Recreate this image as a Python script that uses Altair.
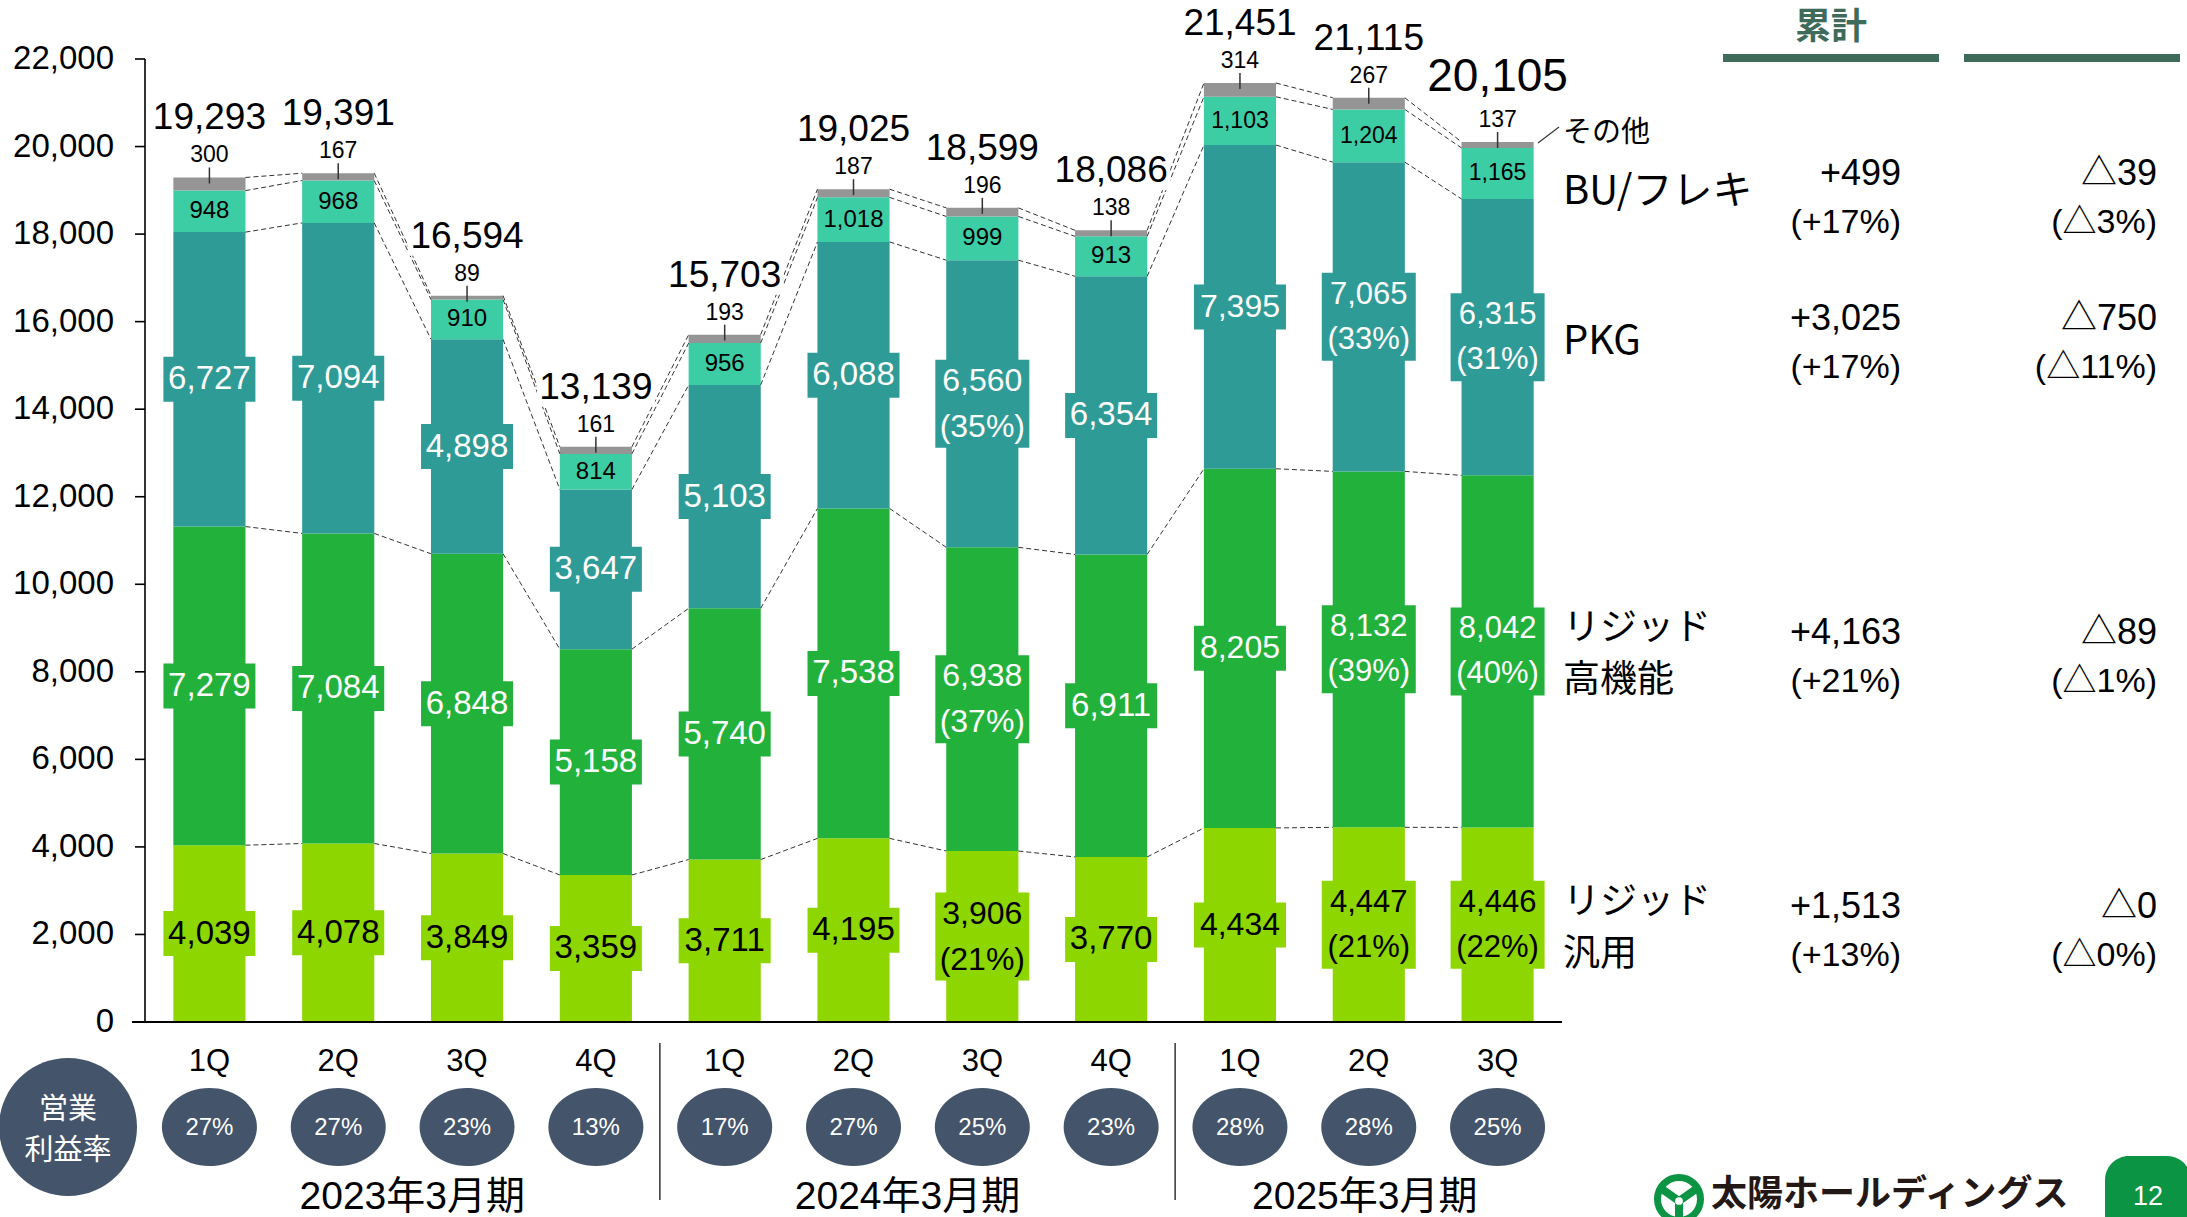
import altair as alt
import pandas as pd

# ---------------- data ----------------
fiscal_years = ["2023年3月期"] * 4 + ["2024年3月期"] * 4 + ["2025年3月期"] * 3
quarters = ["1Q", "2Q", "3Q", "4Q", "1Q", "2Q", "3Q", "4Q", "1Q", "2Q", "3Q"]
rigid_general = [4039, 4078, 3849, 3359, 3711, 4195, 3906, 3770, 4434, 4447, 4446]
rigid_high = [7279, 7084, 6848, 5158, 5740, 7538, 6938, 6911, 8205, 8132, 8042]
pkg = [6727, 7094, 4898, 3647, 5103, 6088, 6560, 6354, 7395, 7065, 6315]
bu_flex = [948, 968, 910, 814, 956, 1018, 999, 913, 1103, 1204, 1165]
other = [300, 167, 89, 161, 193, 187, 196, 138, 314, 267, 137]
totals = [19293, 19391, 16594, 13139, 15703, 19025, 18599, 18086, 21451, 21115, 20105]
op_margin = ["27%", "27%", "23%", "13%", "17%", "27%", "25%", "23%", "28%", "28%", "25%"]
share_general = ["", "", "", "", "", "", "21%", "", "", "21%", "22%"]
share_high = ["", "", "", "", "", "", "37%", "", "", "39%", "40%"]
share_pkg = ["", "", "", "", "", "", "35%", "", "", "33%", "31%"]
y_ticks = list(range(0, 22001, 2000))

segments = ["リジッド汎用", "リジッド高機能", "PKG", "BU/フレキ", "その他"]
seg_colors = ["#8DD600", "#22B23C", "#2E9B96", "#3DCDA5", "#959595"]

table_segments = ["BU/フレキ", "PKG", "リジッド高機能", "リジッド汎用"]
table_names = ["BU/フレキ", "PKG", "リジッド\n高機能", "リジッド\n汎用"]
cum_change = ["+499", "+3,025", "+4,163", "+1,513"]
cum_change_pct = ["(+17%)", "(+17%)", "(+21%)", "(+13%)"]
yoy_change = ["△39", "△750", "△89", "△0"]
yoy_change_pct = ["(△3%)", "(△11%)", "(△1%)", "(△0%)"]

# ---------------- derived tables ----------------
keys = [f"{f}-{q}" for f, q in zip(fiscal_years, quarters)]
series = [rigid_general, rigid_high, pkg, bu_flex, other]
shares = [share_general, share_high, share_pkg, None, None]

rows = []
cums = []
for i, k in enumerate(keys):
    c = 0
    levels = []
    era = "new" if fiscal_years[i].startswith("2025") else "old"
    for j, s in enumerate(segments):
        v = series[j][i]
        start, end = c, c + v
        c = end
        levels.append(end)
        sh = shares[j][i] if shares[j] is not None else ""
        label = f"{v:,}" + (f"\n({sh})" if sh else "")
        rows.append(dict(key=k, segment=s, start=start, end=end, mid=(start + end) / 2,
                         label=label, two=bool(sh), era=era))
    cums.append(levels)
seg_df = pd.DataFrame(rows)

conn = []
for i in range(len(keys) - 1):
    for lv in range(len(segments)):
        conn.append(dict(key=keys[i], key2=keys[i + 1], y1=cums[i][lv], y2=cums[i + 1][lv]))
conn_df = pd.DataFrame(conn)

tot_df = pd.DataFrame(dict(key=keys, total=totals, label=[f"{t:,}" for t in totals],
                           era=["new" if f.startswith("2025") else "old" for f in fiscal_years],
                           quarter=quarters, margin=op_margin))
tot_df["last"] = [k == keys[-1] for k in keys]

last_mid = {r["segment"]: r["mid"] for r in rows if r["key"] == keys[-1]}
tab_df = pd.DataFrame(dict(segment=table_segments, name=table_names, cum=cum_change,
                           cum_pct=cum_change_pct, yoy=yoy_change, yoy_pct=yoy_change_pct))
tab_df["mid"] = [last_mid[s] for s in table_segments]
tab_df["two"] = ["\n" in n for n in table_names]

fy_df = pd.DataFrame(dict(fy=["2023年3月期", "2024年3月期", "2025年3月期"],
                          anchor=[keys[1], keys[5], keys[9]]))
sep_df = pd.DataFrame(dict(key=[keys[3], keys[7]]))
yt_df = pd.DataFrame(dict(v=y_ticks, lab=[f"{v:,}" for v in y_ticks]))
one = pd.DataFrame(dict(a=[0]))

# ---------------- styling helpers ----------------
NUM = "Liberation Sans, Arial, Noto Sans CJK JP, sans-serif"
CJK = "Noto Sans CJK JP"
W, H = 1417, 963


def rect_shape(w, h):
    r = h / w
    return f"M-1,{-r:.4f}L1,{-r:.4f}L1,{r:.4f}L-1,{r:.4f}Z"


def ellipse_shape(w, h):
    k = h / w
    K = 0.5523
    return (f"M1,0C1,{k*K:.4f} {K},{k:.4f} 0,{k:.4f}C{-K},{k:.4f} -1,{k*K:.4f} -1,0"
            f"C-1,{-k*K:.4f} {-K},{-k:.4f} 0,{-k:.4f}C{K},{-k:.4f} 1,{-k*K:.4f} 1,0Z")


XS = alt.Scale(paddingInner=0.44, paddingOuter=0.22)
X = alt.X("key:N", sort=keys, scale=XS, axis=None)
YS = alt.Scale(domain=[0, 22000], nice=False, zero=True)
COL = alt.Color("segment:N", scale=alt.Scale(domain=segments, range=seg_colors), legend=None)


def Y(field):
    return alt.Y(field, scale=YS, axis=None)


# ---------------- layers ----------------
bars = alt.Chart(seg_df).mark_bar().encode(x=X, y=Y("start:Q"), y2="end:Q", color=COL)

# y axis (drawn with the y scale)
y_domain = alt.Chart(one).mark_rule(color="black", strokeWidth=1.6).encode(
    x=alt.value(0), y=alt.value(0), y2=alt.value(H))
y_tick = alt.Chart(yt_df).mark_rule(color="black", strokeWidth=1.6).encode(
    x=alt.value(-10), x2=alt.value(0), y=Y("v:Q"))
y_lab = alt.Chart(yt_df).mark_text(font=NUM, fontSize=33, align="right", baseline="middle",
                                   color="black").encode(x=alt.value(-31), y=Y("v:Q"), text="lab:N")
baseline = alt.Chart(one).mark_rule(color="black", strokeWidth=2).encode(
    x=alt.value(-13), x2=alt.value(W), y=alt.value(H))

connectors = alt.Chart(conn_df).mark_rule(
    strokeDash=[5, 3], strokeWidth=1, color="#333333", xOffset=36, x2Offset=-36
).encode(x=X, x2="key2:N", y=Y("y1:Q"), y2="y2:Q")

big_filter = alt.FieldOneOfPredicate(field="segment", oneOf=["リジッド汎用", "リジッド高機能", "PKG"])
big = alt.Chart(seg_df).transform_filter(big_filter)

box1 = big.transform_filter("!datum.two").mark_point(
    shape=rect_shape(92, 45), size=92 * 92, filled=True, opacity=1, strokeWidth=0
).encode(x=X, y=Y("mid:Q"), color=COL)
box2 = big.transform_filter("datum.two").mark_point(
    shape=rect_shape(94, 88), size=94 * 94, filled=True, opacity=1, strokeWidth=0
).encode(x=X, y=Y("mid:Q"), color=COL)

txt_color = alt.condition(alt.datum.segment == "リジッド汎用", alt.value("black"), alt.value("white"))


def big_text(cond, size, lh, dy):
    return big.transform_filter(cond).mark_text(
        font=NUM, fontSize=size, lineBreak="\n", lineHeight=lh, baseline="middle", align="center", dy=dy
    ).encode(x=X, y=Y("mid:Q"), text="label:N", color=txt_color)


big_old1 = big_text("datum.era == 'old' && !datum.two", 33, 46, 0)
big_old2 = big_text("datum.era == 'old' && datum.two", 32, 46, -23)
big_new1 = big_text("datum.era == 'new' && !datum.two", 32, 45, 0)
big_new2 = big_text("datum.era == 'new' && datum.two", 31, 45, -22)

bu = alt.Chart(seg_df).transform_filter("datum.segment == 'BU/フレキ'")
bu_old = bu.transform_filter("datum.era == 'old'").mark_text(
    font=NUM, fontSize=24, baseline="middle", color="black").encode(x=X, y=Y("mid:Q"), text="label:N")
bu_new = bu.transform_filter("datum.era == 'new'").mark_text(
    font=NUM, fontSize=23, baseline="middle", color="black").encode(x=X, y=Y("mid:Q"), text="label:N")

oth = alt.Chart(seg_df).transform_filter("datum.segment == 'その他'")
oth_tick = oth.mark_rule(color="#333333", strokeWidth=1.5, yOffset=6, y2Offset=-10).encode(
    x=X, y=Y("end:Q"), y2="end:Q")
oth_lab = oth.mark_text(font=NUM, fontSize=23, baseline="middle", dy=-22, color="black").encode(
    x=X, y=Y("end:Q"), text="label:N")

tot = alt.Chart(tot_df)
tot_box = tot.transform_filter("!datum.last").mark_point(
    shape=rect_shape(118, 38), size=118 * 118, filled=True, opacity=1, strokeWidth=0,
    color="white", yOffset=-59).encode(x=X, y=Y("total:Q"))
tot_norm = tot.transform_filter("!datum.last").mark_text(
    font=NUM, fontSize=37, baseline="middle", dy=-59, color="black"
).encode(x=X, y=Y("total:Q"), text="label:N")
tot_last = tot.transform_filter("datum.last").mark_text(
    font=NUM, fontSize=46, baseline="middle", dy=-65, color="black"
).encode(x=X, y=Y("total:Q"), text="label:N")

# bottom: quarters, margins, fiscal years
q_lab = tot.mark_text(font=NUM, fontSize=31, baseline="middle", color="black").encode(
    x=X, y=alt.value(1003), text="quarter:N")
ell = tot.mark_point(shape=ellipse_shape(95, 78), size=95 * 95, filled=True, opacity=1,
                     strokeWidth=0, color="#44546A").encode(x=X, y=alt.value(1068))
ell_txt = tot.mark_text(font=NUM, fontSize=24, baseline="middle", color="white").encode(
    x=X, y=alt.value(1069), text="margin:N")

big_circle = alt.Chart(one).mark_point(shape=ellipse_shape(138, 138), size=138 * 138, filled=True,
                                       opacity=1, strokeWidth=0, color="#44546A").encode(
    x=alt.value(-77), y=alt.value(1068))
big_circle_txt = alt.Chart(one).mark_text(font=CJK, fontSize=29, lineBreak="\n", lineHeight=41,
                                          baseline="middle", color="white").encode(
    x=alt.value(-77), y=alt.value(1051), text=alt.value("営業\n利益率"))

XF = alt.X("anchor:N", sort=keys, scale=XS, axis=None)
fy_layers = [
    alt.Chart(fy_df).transform_filter(f"datum.fy == '{name}'").mark_text(
        font=NUM, fontSize=39, baseline="middle", color="black", xOffset=off).encode(
        x=XF, y=alt.value(1138), text="fy:N")
    for name, off in (("2023年3月期", 74), ("2024年3月期", 54), ("2025年3月期", -4))
]

seps = alt.Chart(sep_df).mark_rule(color="#333333", strokeWidth=1.5, xOffset=64).encode(
    x=X, y=alt.value(984), y2=alt.value(1141))

# right table (anchored at the last bar's segment middles)
tab = alt.Chart(tab_df)


def tab_layers(field, x, align, font, size, dy_bu, dy_rest, extra_filter=None):
    out = []
    for cond, dy in (("datum.segment == 'BU/フレキ'", dy_bu), ("datum.segment != 'BU/フレキ'", dy_rest)):
        c = tab.transform_filter(cond)
        if extra_filter:
            c = c.transform_filter(extra_filter)
        out.append(c.mark_text(font=font, fontSize=size, align=align, baseline="middle", dy=dy,
                               lineBreak="\n", lineHeight=52, color="black").encode(
            x=alt.value(x), y=Y("mid:Q"), text=f"{field}:N"))
    return out


tab_parts = []
tab_parts += tab_layers("name", 1418, "left", CJK, 40, 19, 5, "!datum.two")
tab_parts += tab_layers("name", 1418, "left", CJK, 37, -22, -22, "datum.two")
tab_parts += tab_layers("cum", 1756, "right", NUM, 36, 1, -18)
tab_parts += tab_layers("cum_pct", 1756, "right", NUM, 34, 50, 31)
tab_parts += tab_layers("yoy", 2012, "right", NUM, 36, 1, -18)
tab_parts += tab_layers("yoy_pct", 2012, "right", NUM, 34, 50, 31)

other_lab = alt.Chart(one).mark_text(font=CJK, fontSize=29, align="left", baseline="middle",
                                     color="black").encode(
    x=alt.value(1418), y=alt.value(74), text=alt.value("その他"))
other_line = alt.Chart(one).mark_rule(color="#333333", strokeWidth=1.2).encode(
    x=alt.value(1393), x2=alt.value(1414), y=alt.value(84), y2=alt.value(68))

hdr = alt.Chart(one).mark_text(font=CJK, fontSize=36, fontWeight="bold", color="#3F6B5A",
                               baseline="middle").encode(
    x=alt.value(1686), y=alt.value(-31), text=alt.value("累計"))
hdr_bar1 = alt.Chart(one).mark_rule(color="#3F6B5A", strokeWidth=8, strokeCap="butt").encode(
    x=alt.value(1578), x2=alt.value(1794), y=alt.value(-1))
hdr_bar2 = alt.Chart(one).mark_rule(color="#3F6B5A", strokeWidth=8, strokeCap="butt").encode(
    x=alt.value(1819), x2=alt.value(2035), y=alt.value(-1))

# logo and page number
GREEN = "#0B9444"
logo_ring = alt.Chart(one).mark_point(shape="circle", size=1850, filled=False, strokeWidth=7,
                                      color=GREEN, opacity=1).encode(
    x=alt.value(1534), y=alt.value(1140))
logo_spokes = [
    alt.Chart(one).mark_rule(color=GREEN, strokeWidth=8).encode(
        x=alt.value(1534), x2=alt.value(x2), y=alt.value(1142), y2=alt.value(y2))
    for x2, y2 in ((1514, 1128), (1554, 1128), (1534, 1162))
]
logo_hub = alt.Chart(one).mark_point(shape="circle", size=60, filled=True, color="white",
                                     opacity=1).encode(x=alt.value(1534), y=alt.value(1142))
logo_txt = alt.Chart(one).mark_text(font=CJK, fontSize=36, fontWeight="bold", color="#231815",
                                    align="left", baseline="middle").encode(
    x=alt.value(1566), y=alt.value(1136), text=alt.value("太陽ホールディングス"))
page_box = alt.Chart(one).mark_rect(color=GREEN, cornerRadius=24).encode(
    x=alt.value(1960), x2=alt.value(2046), y=alt.value(1097), y2=alt.value(1185))
page_txt = alt.Chart(one).mark_text(font=NUM, fontSize=27, color="white",
                                    baseline="middle").encode(
    x=alt.value(2003), y=alt.value(1138), text=alt.value("12"))

chart = alt.layer(
    bars, connectors, box1, box2, big_old1, big_old2, big_new1, big_new2, bu_old, bu_new,
    tot_box, oth_tick, oth_lab, tot_norm, tot_last,
    y_domain, y_tick, y_lab, baseline,
    q_lab, ell, ell_txt, big_circle, big_circle_txt, *fy_layers, seps,
    *tab_parts, other_lab, other_line,
    hdr, hdr_bar1, hdr_bar2, logo_ring, *logo_spokes, logo_hub, logo_txt, page_box, page_txt,
).properties(
    width=W, height=H,
    padding={"left": 145, "top": 59, "right": 2187 - 145 - W, "bottom": 1217 - 59 - H},
    autosize=alt.AutoSizeParams(type="none"),
    background="white",
).configure_view(stroke=None)

chart.save("out.html", embed_options={"renderer": "svg", "actions": False})
